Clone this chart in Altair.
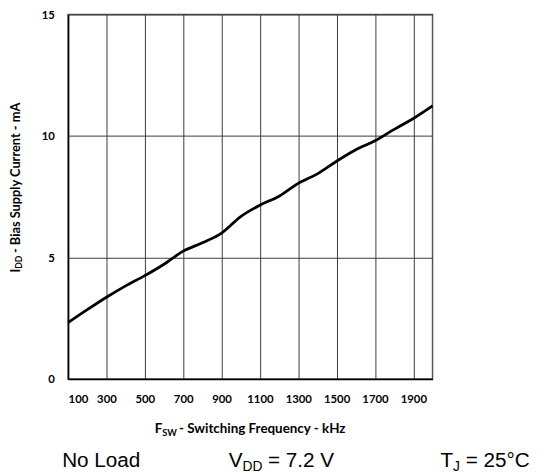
import altair as alt
import pandas as pd

# ---- data ----
freq_khz = [100, 200, 300, 400, 500, 600, 700, 800, 900, 1000,
            1100, 1200, 1300, 1400, 1500, 1600, 1700, 1800, 1900, 2000]
idd_ma = [2.32, 2.85, 3.36, 3.83, 4.25, 4.72, 5.26, 5.60, 6.00, 6.68,
          7.15, 7.52, 8.05, 8.44, 8.96, 9.43, 9.80, 10.27, 10.72, 11.24]
x_ticks = [100, 300, 500, 700, 900, 1100, 1300, 1500, 1700, 1900]
y_ticks = [0, 5, 10, 15]

df = pd.DataFrame({"f": freq_khz, "i": idd_ma})

W, H = 370, 370
OX, OY = 69, 11  # screen position of plot origin (8px page margin + padding)

LBL_FONT = "Lato"
NOTE_FONT = "Liberation Sans"


def sx(v):
    return v - OX


def sy(v):
    return v - OY


def txt(s, x, y, size, font, bold=False, angle=0, align="left"):
    m = alt.Chart(pd.DataFrame({"t": [s]})).mark_text(
        font=font,
        fontSize=size,
        fontWeight="bold" if bold else "normal",
        align=align,
        baseline="alphabetic",
        angle=angle,
        color="black",
    )
    return m.encode(text="t:N", x=alt.value(sx(x)), y=alt.value(sy(y)))


line = alt.Chart(df).mark_line(color="black", strokeWidth=2.8, interpolate="monotone").encode(
    x=alt.X(
        "f:Q",
        scale=alt.Scale(domain=[100, 2000], nice=False, zero=False),
        axis=alt.Axis(
            title="",
            values=x_ticks,
            format="d",
            grid=True,
            gridColor="#3a3a3a",
            gridWidth=1,
            domainColor="black",
            domainWidth=1.5,
            ticks=False,
            tickSize=0,
            labelPadding=15,
            labelFont=LBL_FONT,
            labelFontWeight="bold",
            labelFontSize=11.5,
            labelColor="black",
        ),
    ),
    y=alt.Y(
        "i:Q",
        scale=alt.Scale(domain=[0, 15], nice=False),
        axis=alt.Axis(
            title="",
            values=y_ticks,
            format="d",
            grid=True,
            gridColor="#3a3a3a",
            gridWidth=1,
            domainColor="black",
            domainWidth=1.5,
            ticks=False,
            tickSize=0,
            labelPadding=14,
            labelOffset=1,
            labelFont=LBL_FONT,
            labelFontWeight="bold",
            labelFontSize=11.5,
            labelColor="black",
        ),
    ),
)

# axis titles with subscripts
xt_base = 436
x_title = [
    txt("F", 157, xt_base, 13.6, LBL_FONT, bold=True),
    txt("SW", 164.5, xt_base + 2.6, 9.3, LBL_FONT, bold=True),
    txt("- Switching Frequency - kHz", 181.5, xt_base, 13.6, LBL_FONT, bold=True),
]
yt_base = 20
y_title = [
    txt("I", yt_base, 273, 13.0, LBL_FONT, bold=True, angle=270),
    txt("DD", yt_base + 2.6, 269.2, 8.8, LBL_FONT, bold=True, angle=270),
    txt("- Bias Supply Current - mA", yt_base, 253.2, 13.0, LBL_FONT, bold=True, angle=270),
]

nb = 470
notes = [
    txt("No Load", 63, nb, 21, NOTE_FONT),
    txt("V", 232, nb, 21, NOTE_FONT),
    txt("DD", 246, nb + 4, 14, NOTE_FONT),
    txt("= 7.2 V", 272, nb, 21, NOTE_FONT),
    txt("T", 447, nb, 21, NOTE_FONT),
    txt("J", 459.8, nb + 4, 14, NOTE_FONT),
    txt("= 25°C", 472.6, nb, 21, NOTE_FONT),
]

chart = alt.layer(line, *x_title, *y_title, *notes).properties(
    width=W,
    height=H,
    autosize="none",
    padding={"left": 61, "top": 3, "right": 103, "bottom": 95},
    background="white",
).configure_view(stroke="#555555", strokeWidth=1.5)

chart.save("out.html", embed_options={"renderer": "svg", "actions": False})
